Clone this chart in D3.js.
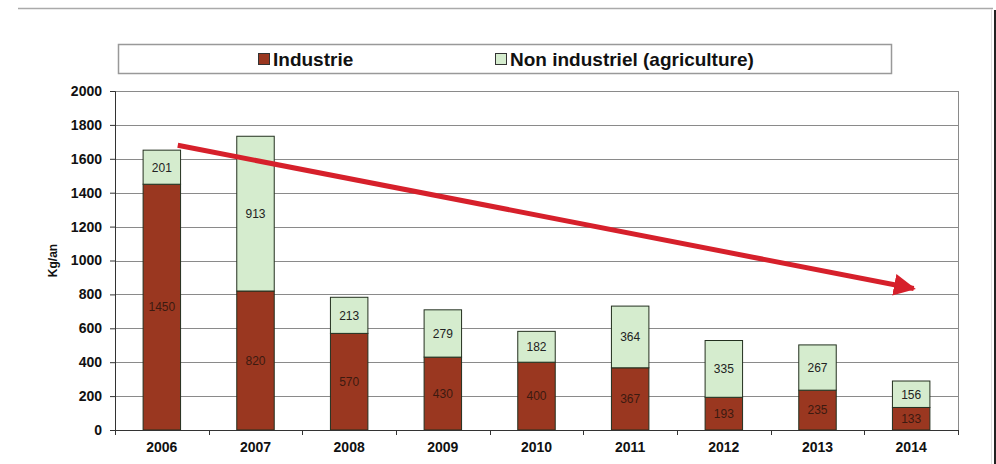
<!DOCTYPE html>
<html>
<head>
<meta charset="utf-8">
<script src="https://cdn.jsdelivr.net/npm/d3@7"></script>
<style>
    body { margin: 0; background: #fff; }
    svg { display: block; font-family: "Liberation Sans", Arial, sans-serif; }
</style>
</head>
<body>
<script>
// data
var years = ["2006", "2007", "2008", "2009", "2010", "2011", "2012", "2013", "2014"],
    industrie = [1450, 820, 570, 430, 400, 367, 193, 235, 133],
    agriculture = [201, 913, 213, 279, 182, 364, 335, 267, 156],
    yTicks = [0, 200, 400, 600, 800, 1000, 1200, 1400, 1600, 1800, 2000],
    seriesNames = ["Industrie", "Non industriel (agriculture)"],
    // trend arrow: start/end as [year, offset in band, value]
    trendStart = ["2006", 0.17, 1680],
    trendEnd = ["2014", 0.07, 830];

var width = 996,
    height = 464,
    margin = {top: 91, right: 38, bottom: 34, left: 115},
    plotW = width - margin.left - margin.right,
    plotH = height - margin.top - margin.bottom,
    colors = ["#9a3720", "#d5ecce"];

var svg = d3.select("body").append("svg")
    .attr("width", width)
    .attr("height", height);

// outer frame lines
svg.append("line")
    .attr("x1", 18).attr("x2", 993).attr("y1", 8.5).attr("y2", 8.5)
    .attr("stroke", "#aaa").attr("stroke-width", 1.5);
svg.append("line")
    .attr("x1", 991.5).attr("x2", 991.5).attr("y1", 9).attr("y2", height)
    .attr("stroke", "#ddd").attr("stroke-width", 1);
svg.append("line")
    .attr("x1", 995).attr("x2", 995).attr("y1", 10).attr("y2", height)
    .attr("stroke", "#222").attr("stroke-width", 2);

// legend
var legend = svg.append("g");
legend.append("rect")
    .attr("x", 118.5).attr("y", 44.5).attr("width", 773).attr("height", 29)
    .attr("fill", "#fff").attr("stroke", "#999").attr("stroke-width", 1.5);
var legendX = [258, 495];
seriesNames.forEach(function(name, i) {
    legend.append("rect")
        .attr("x", legendX[i] + 0.5).attr("y", 53.5)
        .attr("width", 11).attr("height", 11)
        .attr("fill", colors[i]).attr("stroke", "#333").attr("stroke-width", 1);
    legend.append("text")
        .attr("x", legendX[i] + 15).attr("y", 66)
        .attr("font-size", "19px").attr("font-weight", "bold")
        .attr("fill", "#111")
        .text(name);
});

var g = svg.append("g")
    .attr("transform", "translate(" + margin.left + "," + margin.top + ")");

var x = d3.scaleBand()
    .domain(years)
    .range([0, plotW])
    .paddingInner(0.6)
    .paddingOuter(0.3);

var y = d3.scaleLinear()
    .domain([0, 2000])
    .range([plotH, 0]);

// gridlines
g.selectAll(".grid")
    .data(yTicks)
    .enter().append("line")
    .attr("x1", 0).attr("x2", plotW)
    .attr("y1", function(d) { return Math.round(y(d)) + 0.5; })
    .attr("y2", function(d) { return Math.round(y(d)) + 0.5; })
    .attr("stroke", "#8a8a8a").attr("stroke-width", 1);

// right border of plot area
g.append("line")
    .attr("x1", plotW + 0.5).attr("x2", plotW + 0.5)
    .attr("y1", 0).attr("y2", plotH)
    .attr("stroke", "#8a8a8a").attr("stroke-width", 1);

// stacked bars
var stack = years.map(function(yr, i) {
    return [
        {year: yr, y0: 0, y1: industrie[i], v: industrie[i], s: 0},
        {year: yr, y0: industrie[i], y1: industrie[i] + agriculture[i], v: agriculture[i], s: 1}
    ];
});
var segs = [].concat.apply([], stack);

g.selectAll(".bar")
    .data(segs)
    .enter().append("rect")
    .attr("x", function(d) { return x(d.year); })
    .attr("width", x.bandwidth())
    .attr("y", function(d) { return y(d.y1); })
    .attr("height", function(d) { return y(d.y0) - y(d.y1); })
    .attr("fill", function(d) { return colors[d.s]; })
    .attr("stroke", "#23301f").attr("stroke-width", 1);

g.selectAll(".lbl")
    .data(segs)
    .enter().append("text")
    .attr("x", function(d) { return x(d.year) + x.bandwidth() / 2; })
    .attr("y", function(d) { return y((d.y0 + d.y1) / 2); })
    .attr("dy", "0.36em")
    .attr("text-anchor", "middle")
    .attr("font-size", "12px")
    .attr("fill", function(d) { return d.s == 0 ? "#3c1a10" : "#222"; })
    .text(function(d) { return d.v; });

// y axis
var yAxis = g.append("g")
    .call(d3.axisLeft(y).tickValues(yTicks).tickFormat(d3.format("d"))
        .tickSize(5).tickPadding(8));
yAxis.selectAll("text")
    .attr("font-size", "14px").attr("font-weight", "bold").attr("fill", "#111");
yAxis.selectAll("line, path").attr("stroke", "#333");

// x axis with ticks between categories
var xAxis = g.append("g")
    .attr("transform", "translate(0," + plotH + ")");
xAxis.append("line")
    .attr("x1", 0).attr("x2", plotW).attr("y1", 0.5).attr("y2", 0.5)
    .attr("stroke", "#333");
var step = x.step();
var bounds = d3.range(years.length + 1).map(function(i) { return i * step; });
xAxis.selectAll(".xt")
    .data(bounds)
    .enter().append("line")
    .attr("x1", function(d) { return Math.round(d) + 0.5; })
    .attr("x2", function(d) { return Math.round(d) + 0.5; })
    .attr("y1", 0).attr("y2", 5)
    .attr("stroke", "#333");
xAxis.selectAll(".xl")
    .data(years)
    .enter().append("text")
    .attr("x", function(d) { return x(d) + x.bandwidth() / 2; })
    .attr("y", 22)
    .attr("text-anchor", "middle")
    .attr("font-size", "14px").attr("font-weight", "bold").attr("fill", "#111")
    .text(function(d) { return d; });

// y axis title
g.append("text")
    .attr("transform", "translate(" + (-58) + "," + y(1000) + ") rotate(-90)")
    .attr("text-anchor", "middle")
    .attr("font-size", "12px").attr("font-weight", "bold").attr("fill", "#111")
    .text("Kg/an");

// trend arrow
svg.append("defs").append("marker")
    .attr("id", "head")
    .attr("viewBox", "0 0 10 10")
    .attr("refX", 9).attr("refY", 5)
    .attr("markerWidth", 4.4).attr("markerHeight", 5)
    .attr("markerUnits", "strokeWidth")
    .attr("orient", "auto")
    .append("path")
    .attr("d", "M0,0 L10,5 L0,10 z")
    .attr("fill", "#d6202b");

var ax1 = x(trendStart[0]) + x.bandwidth() / 2 + trendStart[1] * step,
    ay1 = y(trendStart[2]),
    ax2 = x(trendEnd[0]) + x.bandwidth() / 2 + trendEnd[1] * step,
    ay2 = y(trendEnd[2]);
g.append("line")
    .attr("x1", ax1).attr("y1", ay1)
    .attr("x2", ax2 - 4).attr("y2", ay2 - 0.8)
    .attr("stroke", "#d6202b").attr("stroke-width", 5)
    .attr("marker-end", "url(#head)");
</script>
</body>
</html>
